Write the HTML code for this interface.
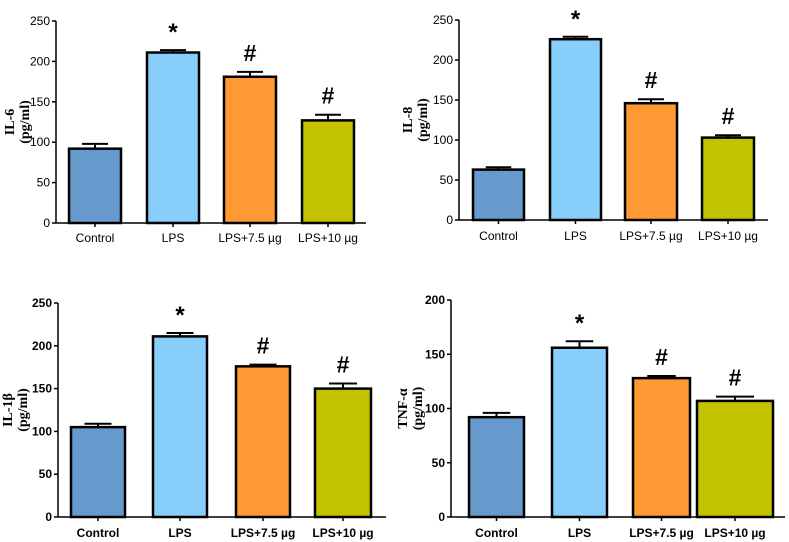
<!DOCTYPE html>
<html><head><meta charset="utf-8"><style>
html,body{margin:0;padding:0;background:#fff;}
svg{display:block;}
</style></head><body>
<svg id="fig" width="789" height="542" xmlns="http://www.w3.org/2000/svg"></svg>
<script>
const categories = ["Control","LPS","LPS+7.5 µg","LPS+10 µg"];
const il6Values = [92, 211, 181, 127];
const il6Errors = [6, 3, 6, 7];
const il8Values = [63, 226, 146, 103];
const il8Errors = [3, 3, 5, 3];
const il1bValues = [105, 211, 176, 150];
const il1bErrors = [4, 4, 2, 6];
const tnfValues = [92, 156, 128, 107];
const tnfErrors = [4, 6, 2, 4];
const markers = ["", "*", "#", "#"];
const ticks250 = [0, 50, 100, 150, 200, 250];
const ticks200 = [0, 50, 100, 150, 200];
const colors = ["#6699cc","#87cefa","#ff9933","#c2c200"];

const NS = "http://www.w3.org/2000/svg";
const svg = document.getElementById("fig");
function mk(tag, attrs, parent){const e=document.createElementNS(NS,tag);for(const k in attrs)e.setAttribute(k,attrs[k]);(parent||svg).appendChild(e);return e;}

const panels = [
 {key:"il6", title:"IL-6", vals:il6Values, errs:il6Errors, ticks:ticks250, max:250, ax:56, top:21, bot:223, xend:366, bars:[[69,121],[147,199],[224,276],[302,354]], labY:242, bold:false, ylx:14},
 {key:"il8", title:"IL-8", vals:il8Values, errs:il8Errors, ticks:ticks250, max:250, ax:459, top:20, bot:220, xend:768, bars:[[473,524],[550,601],[625,677],[702,754]], labY:240, bold:false, ylx:412},
 {key:"il1b", title:"IL-1β", vals:il1bValues, errs:il1bErrors, ticks:ticks250, max:250, ax:58, top:303, bot:517, xend:386, bars:[[71,125],[153,207],[236,290],[315,371]], labY:537, bold:true, ylx:12},
 {key:"tnf", title:"TNF-α", vals:tnfValues, errs:tnfErrors, ticks:ticks200, max:200, ax:451, top:300, bot:517, xend:785, bars:[[469,524],[552,607],[633,690],[697,773]], labY:537, bold:true, ylx:407}
];

panels.forEach(p=>{
  const g = mk("g",{});
  
  
  const y = v => p.bot - (v/p.max)*(p.bot-p.top);
  p.vals.forEach((v,i)=>{
    const [x0,x1]=p.bars[i];
    const cx=(x0+x1)/2, w=x1-x0;
    const e=p.errs[i];
    const el=mk("line",{x1:cx,x2:cx,y1:y(v),y2:y(v+e),stroke:"#000","stroke-width":2},g);
    
    
    const cap=mk("line",{x1:cx-w*0.25,x2:cx+w*0.25,y1:y(v+e),y2:y(v+e),stroke:"#000","stroke-width":2},g);
    
    
    const r=mk("rect",{x:x0,y:y(v),width:w,height:p.bot-y(v),fill:colors[i],stroke:"#000","stroke-width":2.5},g);
    
    
    if(markers[i]){
      const t=mk("text",{x:cx,y:y(v+e)-(markers[i]=="*"?10:11),"text-anchor":"middle","font-family":"Liberation Sans, sans-serif","font-weight":"bold","font-size":markers[i]=="*"?24:23},g);
      t.textContent=markers[i];
      
      
    }
    const lt=mk("text",{x:cx,y:p.labY,"text-anchor":"middle","font-family":"Liberation Sans, sans-serif","font-weight":p.bold?"bold":"normal","font-size":12},g);
    lt.textContent=categories[i];
    
    
  });
  const ya=mk("line",{x1:p.ax,x2:p.ax,y1:p.top,y2:p.bot,stroke:"#000","stroke-width":1.5},g);
  
  
  const xa=mk("line",{x1:p.ax,x2:p.xend,y1:p.bot,y2:p.bot,stroke:"#000","stroke-width":1.5},g);
  
  
  p.bars.forEach(([x0,x1])=>{
    mk("line",{x1:(x0+x1)/2,x2:(x0+x1)/2,y1:p.bot,y2:p.bot+4,stroke:"#000","stroke-width":1.5},g);
  });
  p.ticks.forEach(t=>{
    mk("line",{x1:p.ax-4,x2:p.ax,y1:y(t),y2:y(t),stroke:"#000","stroke-width":1.5},g);
    const tl=mk("text",{x:p.ax-6,y:y(t)+4,"text-anchor":"end","font-family":"Liberation Sans, sans-serif","font-weight":p.bold?"bold":"normal","font-size":12},g);
    tl.textContent=t;
    
    
  });
  const cy=(p.top+p.bot)/2;
  const yt=mk("text",{transform:`translate(${p.ylx},${cy}) rotate(-90)`,"text-anchor":"middle","font-family":"Liberation Serif, serif","font-weight":"bold","font-size":14},g);
  
  
  const s1=mk("tspan",{x:0,dy:0},yt); s1.textContent=p.title;
  const s2=mk("tspan",{x:0,dy:15},yt); s2.textContent="(pg/ml)";
});
</script>
</body></html>
